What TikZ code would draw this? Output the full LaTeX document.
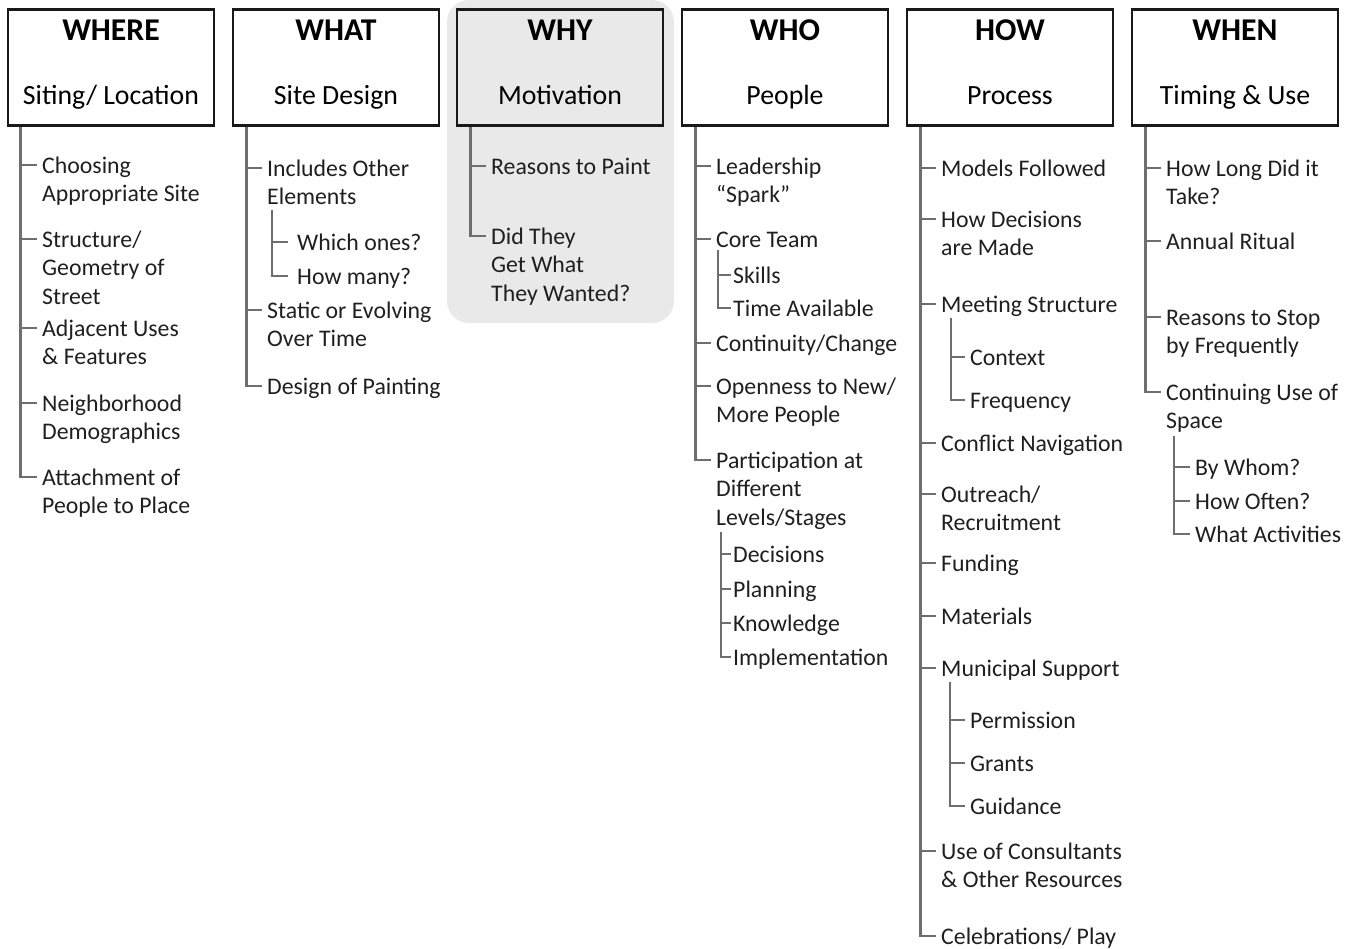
\documentclass[tikz,border=0pt]{standalone}
\usepackage{fontspec}
\setmainfont{Carlito}
\definecolor{linegray}{HTML}{6E6E6E}
\definecolor{whygray}{HTML}{E8E9E8}

\begin{document}
\begin{tikzpicture}[x=1pt,y=-1pt,
  box/.style={draw=black!90, line width=2.6pt, minimum width=206pt, minimum height=116pt, inner sep=0pt},
  head/.style={anchor=base, inner sep=0pt, font=\fontsize{31.7}{36}\selectfont\bfseries},
  sub/.style={anchor=base, inner sep=0pt, font=\fontsize{27.8}{33}\selectfont},
  item/.style={anchor=north west, yshift=20.09pt, align=left, inner sep=0pt, text=black!88,
    font=\fontsize{23.8}{28.7}\selectfont},
  branch/.style={draw=linegray, line width=2.8pt}]

\useasboundingbox (0,0) rectangle (1357,949);

% Highlight behind WHY
\fill[whygray, rounded corners=22pt] (447,0) rectangle (674,323);

% Header boxes
\node[box] (where) at (111,67.5) {};
\node[box] (what) at (336,67.5) {};
\node[box, fill=whygray] (why) at (560,67.5) {};
\node[box] (who) at (785,67.5) {};
\node[box] (how) at (1010,67.5) {};
\node[box] (when) at (1235,67.5) {};

\node[head] (whereH) at (111,41) {WHERE};
\node[sub] (whereS) at (111,105) {Siting/ Location};
\node[head] (whatH) at (336,41) {WHAT};
\node[sub] (whatS) at (336,105) {Site Design};
\node[head] (whyH) at (560,41) {WHY};
\node[sub] (whyS) at (560,105) {Motivation};
\node[head] (whoH) at (785,41) {WHO};
\node[sub] (whoS) at (785,105) {People};
\node[head] (howH) at (1010,41) {HOW};
\node[sub] (howS) at (1010,105) {Process};
\node[head] (whenH) at (1235,41) {WHEN};
\node[sub] (whenS) at (1235,105) {Timing \& Use};

% Trunk tops
\coordinate (whereT) at ([xshift=14pt]where.south west);
\coordinate (whatT) at ([xshift=15pt]what.south west);
\coordinate (whyT) at ([xshift=15pt]why.south west);
\coordinate (whoT) at ([xshift=15pt]who.south west);
\coordinate (howT) at ([xshift=15pt]how.south west);
\coordinate (whenT) at ([xshift=15pt]when.south west);

% --- WHERE ---
\node[item] (w1) at (42,173) {\strut Choosing\\Appropriate Site};
\node[item] (w2) at (42,247) {\strut Structure/\\Geometry of\\Street};
\node[item] (w3) at (42,336) {\strut Adjacent Uses\\\& Features};
\node[item] (w4) at (42,411) {\strut Neighborhood\\Demographics};
\node[item] (w5) at (42,485) {\strut Attachment of\\People to Place};
\foreach \n in {w1,w2,w3,w4,w5}
  \draw[branch] (whereT) |- ([shift={(-5,12)}]\n.north west);

% --- WHAT ---
\node[item] (a1) at (267,176) {\strut Includes Other\\Elements};
\node[item] (a11) at (297,250) {\strut Which ones?};
\node[item] (a12) at (297,284) {\strut How many?};
\node[item] (a2) at (267,318) {\strut Static or Evolving\\Over Time};
\node[item] (a3) at (267,394) {\strut Design of Painting};
\foreach \n in {a1,a2,a3}
  \draw[branch] (whatT) |- ([shift={(-5,12)}]\n.north west);
\coordinate (a1T) at ([shift={(5,54)}]a1.north west);
\foreach \n in {a11,a12}
  \draw[branch] (a1T) |- ([shift={(-9,12)}]\n.north west);

% --- WHY ---
\node[item] (y1) at (491,174) {\strut Reasons to Paint};
\node[item] (y2) at (491,244) {\strut Did They\\Get What\\They Wanted?};
\foreach \n in {y1,y2}
  \draw[branch] (whyT) |- ([shift={(-5,12)}]\n.north west);

% --- WHO ---
\node[item] (o1) at (716,174) {\strut Leadership\\“Spark”};
\node[item] (o2) at (716,247) {\strut Core Team};
\node[item] (o21) at (733,283) {\strut Skills};
\node[item] (o22) at (733,316) {\strut Time Available};
\node[item] (o3) at (716,351) {\strut Continuity/Change};
\node[item] (o4) at (716,394) {\strut Openness to New/\\More People};
\node[item] (o5) at (716,468) {\strut Participation at\\Different\\Levels/Stages};
\node[item] (o51) at (733,562) {\strut Decisions};
\node[item] (o52) at (733,597) {\strut Planning};
\node[item] (o53) at (733,631) {\strut Knowledge};
\node[item] (o54) at (733,665) {\strut Implementation};
\foreach \n in {o1,o2,o3,o4,o5}
  \draw[branch] (whoT) |- ([shift={(-5,12)}]\n.north west);
\coordinate (o2T) at ([shift={(2,23)}]o2.north west);
\foreach \n in {o21,o22}
  \draw[branch] (o2T) |- ([shift={(-2,12)}]\n.north west);
\coordinate (o5T) at ([shift={(5,84)}]o5.north west);
\foreach \n in {o51,o52,o53,o54}
  \draw[branch] (o5T) |- ([shift={(-2,12)}]\n.north west);

% --- HOW ---
\node[item] (h1) at (941,176) {\strut Models Followed};
\node[item] (h2) at (941,227) {\strut How Decisions\\are Made};
\node[item] (h3) at (941,312) {\strut Meeting Structure};
\node[item] (h31) at (970,365) {\strut Context};
\node[item] (h32) at (970,408) {\strut Frequency};
\node[item] (h4) at (941,451) {\strut Conflict Navigation};
\node[item] (h5) at (941,502) {\strut Outreach/\\Recruitment};
\node[item] (h6) at (941,571) {\strut Funding};
\node[item] (h7) at (941,624) {\strut Materials};
\node[item] (h8) at (941,676) {\strut Municipal Support};
\node[item] (h81) at (970,728) {\strut Permission};
\node[item] (h82) at (970,771) {\strut Grants};
\node[item] (h83) at (970,814) {\strut Guidance};
\node[item] (h9) at (941,859) {\strut Use of Consultants\\\& Other Resources};
\node[item] (h10) at (941,944) {\strut Celebrations/ Play};
\foreach \n in {h1,h2,h3,h4,h5,h6,h7,h8,h9,h10}
  \draw[branch] (howT) |- ([shift={(-5,12)}]\n.north west);
\coordinate (h3T) at ([shift={(10,26)}]h3.north west);
\foreach \n in {h31,h32}
  \draw[branch] (h3T) |- ([shift={(-5,12)}]\n.north west);
\coordinate (h8T) at ([shift={(9,26)}]h8.north west);
\foreach \n in {h81,h82,h83}
  \draw[branch] (h8T) |- ([shift={(-5,12)}]\n.north west);

% --- WHEN ---
\node[item] (n1) at (1166,176) {\strut How Long Did it\\Take?};
\node[item] (n2) at (1166,249) {\strut Annual Ritual};
\node[item] (n3) at (1166,325) {\strut Reasons to Stop\\by Frequently};
\node[item] (n4) at (1166,400) {\strut Continuing Use of\\Space};
\node[item] (n41) at (1195,475) {\strut By Whom?};
\node[item] (n42) at (1195,509) {\strut How Often?};
\node[item] (n43) at (1195,542) {\strut What Activities};
\foreach \n in {n1,n2,n3,n4}
  \draw[branch] (whenT) |- ([shift={(-5,12)}]\n.north west);
\coordinate (n4T) at ([shift={(8,56)}]n4.north west);
\foreach \n in {n41,n42,n43}
  \draw[branch] (n4T) |- ([shift={(-5,12)}]\n.north west);

\end{tikzpicture}
\end{document}
